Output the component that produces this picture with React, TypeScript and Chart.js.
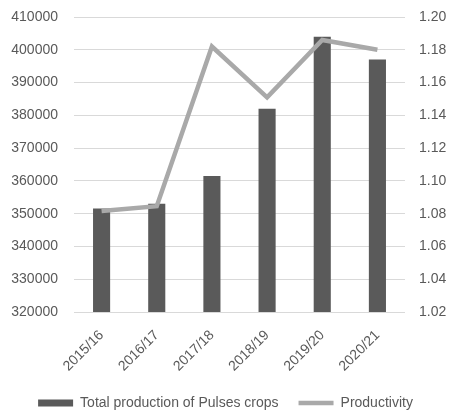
import React, { useEffect, useRef } from "react";
import { Chart, registerables } from "chart.js";

Chart.register(...registerables);

const categories = ["2015/16", "2016/17", "2017/18", "2018/19", "2019/20", "2020/21"];
const production = [351600, 353000, 361500, 382000, 404000, 397000];
const productivity = [1.0816, 1.0846, 1.182, 1.151, 1.186, 1.18];
const seriesNames = ["Total production of Pulses crops", "Productivity"];

const FONT = "'Liberation Sans', Arial, sans-serif";
const TEXT = "#595959";

export default function App() {
  const ref = useRef<HTMLCanvasElement | null>(null);
  useEffect(() => {
    document.body.style.margin = "0";
    document.body.style.overflow = "hidden";
    const canvas = ref.current!;
    const chart = new Chart(canvas, {
      type: "bar",
      data: {
        labels: categories,
        datasets: [
          {
            type: "bar",
            label: seriesNames[0],
            data: production,
            backgroundColor: "#5a5a5a",
            borderWidth: 0,
            yAxisID: "y",
            order: 1,
            barPercentage: 0.31,
            categoryPercentage: 1,
            pointStyle: "rect",
          } as any,
          {
            type: "line",
            label: seriesNames[1],
            data: productivity,
            borderColor: "#a9a9a9",
            backgroundColor: "#a9a9a9",
            borderWidth: 4.5,
            pointRadius: 0,
            tension: 0,
            yAxisID: "y1",
            order: 0,
            pointStyle: "line",
          } as any,
        ],
      },
      options: {
        responsive: false,
        animation: false,
        devicePixelRatio: 1,
        layout: { padding: { top: 17, left: 0, right: 0, bottom: 0 } },
        plugins: {
          tooltip: { enabled: false },
          legend: {
            position: "bottom",
            labels: {
              usePointStyle: true,
              pointStyleWidth: 35,
              boxHeight: 7,
              padding: 20,
              color: TEXT,
              font: { family: FONT, size: 14 },
              sort: (a: any, b: any) => a.datasetIndex - b.datasetIndex,
            },
          },
        },
        scales: {
          x: {
            grid: { display: false },
            border: { display: false },
            ticks: {
              color: TEXT,
              font: { family: FONT, size: 14 },
              maxRotation: 45,
              minRotation: 45,
              padding: 7,
            },
            afterFit: (s: any) => {
              s.height = 64;
            },
          },
          y: {
            position: "left",
            min: 320000,
            max: 410000,
            grid: { color: "#d9d9d9", lineWidth: 1, drawTicks: false },
            border: { display: false },
            ticks: {
              stepSize: 10000,
              color: TEXT,
              padding: 16,
              font: { family: FONT, size: 14 },
              callback: (v: any) => String(v),
            },
            afterFit: (s: any) => {
              s.width = 74;
              s.paddingTop = 8;
              s.paddingBottom = 8;
            },
          },
          y1: {
            position: "right",
            min: 1.02,
            max: 1.2,
            grid: { display: false, drawTicks: false },
            border: { display: false },
            ticks: {
              stepSize: 0.02,
              color: TEXT,
              padding: 14,
              font: { family: FONT, size: 14 },
              callback: (v: any) => Number(v).toFixed(2),
            },
            afterFit: (s: any) => {
              s.width = 46;
              s.paddingTop = 8;
              s.paddingBottom = 8;
            },
          },
        },
      } as any,
    });
    return () => chart.destroy();
  }, []);
  return (
    <div style={{ width: 451, height: 420 }}>
      <canvas ref={ref} width={451} height={420} style={{ display: "block" }} />
    </div>
  );
}
